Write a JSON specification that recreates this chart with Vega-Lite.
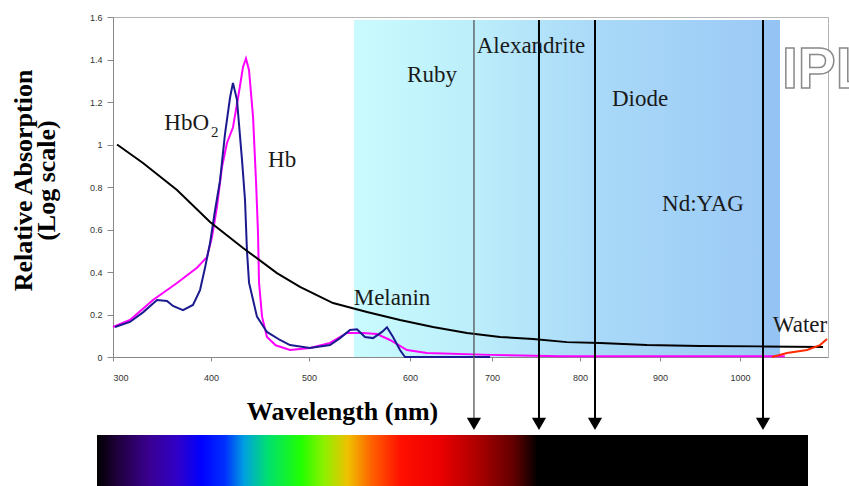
{
  "$schema": "https://vega.github.io/schema/vega-lite/v6.json",
  "width": 715,
  "height": 340,
  "autosize": {"type": "none"},
  "padding": {"left": 113, "top": 17, "right": 21, "bottom": 129},
  "background": "white",
  "config": {"view": {"stroke": "#b4b4b4", "strokeWidth": 1}},
  "datasets": {
    "curves": [
      {"series": "Hb", "nm": 300, "v": 0.141},
      {"series": "Hb", "nm": 317.3, "v": 0.174},
      {"series": "Hb", "nm": 340.8, "v": 0.268},
      {"series": "Hb", "nm": 365.3, "v": 0.348},
      {"series": "Hb", "nm": 385.7, "v": 0.42},
      {"series": "Hb", "nm": 395.9, "v": 0.47},
      {"series": "Hb", "nm": 401, "v": 0.565},
      {"series": "Hb", "nm": 406.1, "v": 0.706},
      {"series": "Hb", "nm": 411.2, "v": 0.894},
      {"series": "Hb", "nm": 416.3, "v": 1.007},
      {"series": "Hb", "nm": 422.4, "v": 1.08},
      {"series": "Hb", "nm": 427.6, "v": 1.22},
      {"series": "Hb", "nm": 432.7, "v": 1.365},
      {"series": "Hb", "nm": 435.7, "v": 1.405},
      {"series": "Hb", "nm": 438.8, "v": 1.35},
      {"series": "Hb", "nm": 442.9, "v": 1.13},
      {"series": "Hb", "nm": 446, "v": 0.82},
      {"series": "Hb", "nm": 448, "v": 0.58},
      {"series": "Hb", "nm": 449, "v": 0.35},
      {"series": "Hb", "nm": 452.1, "v": 0.19},
      {"series": "Hb", "nm": 457.1, "v": 0.094},
      {"series": "Hb", "nm": 466, "v": 0.055},
      {"series": "Hb", "nm": 480.6, "v": 0.033},
      {"series": "Hb", "nm": 501, "v": 0.042},
      {"series": "Hb", "nm": 520.8, "v": 0.066},
      {"series": "Hb", "nm": 537.6, "v": 0.113},
      {"series": "Hb", "nm": 553.5, "v": 0.113},
      {"series": "Hb", "nm": 567.3, "v": 0.108},
      {"series": "Hb", "nm": 580.2, "v": 0.08},
      {"series": "Hb", "nm": 597, "v": 0.033},
      {"series": "Hb", "nm": 620.7, "v": 0.019},
      {"series": "Hb", "nm": 697.6, "v": 0.01},
      {"series": "Hb", "nm": 777.3, "v": 0.004},
      {"series": "Hb", "nm": 950, "v": 0.003},
      {"series": "Hb", "nm": 1056, "v": 0.003},
      {"series": "HbO2", "nm": 302, "v": 0.141},
      {"series": "HbO2", "nm": 317.3, "v": 0.165},
      {"series": "HbO2", "nm": 330.6, "v": 0.21},
      {"series": "HbO2", "nm": 344.9, "v": 0.268},
      {"series": "HbO2", "nm": 355.1, "v": 0.264},
      {"series": "HbO2", "nm": 361.2, "v": 0.24},
      {"series": "HbO2", "nm": 371.4, "v": 0.22},
      {"series": "HbO2", "nm": 381.6, "v": 0.245},
      {"series": "HbO2", "nm": 388.8, "v": 0.315},
      {"series": "HbO2", "nm": 393.9, "v": 0.42},
      {"series": "HbO2", "nm": 399, "v": 0.536},
      {"series": "HbO2", "nm": 404.1, "v": 0.69},
      {"series": "HbO2", "nm": 409.2, "v": 0.83},
      {"series": "HbO2", "nm": 414.3, "v": 1.05},
      {"series": "HbO2", "nm": 419.4, "v": 1.22},
      {"series": "HbO2", "nm": 422.4, "v": 1.29},
      {"series": "HbO2", "nm": 426.5, "v": 1.21},
      {"series": "HbO2", "nm": 431.6, "v": 0.93},
      {"series": "HbO2", "nm": 434.7, "v": 0.74},
      {"series": "HbO2", "nm": 436.7, "v": 0.5},
      {"series": "HbO2", "nm": 438.8, "v": 0.35},
      {"series": "HbO2", "nm": 446.9, "v": 0.19},
      {"series": "HbO2", "nm": 457.1, "v": 0.118},
      {"series": "HbO2", "nm": 470.4, "v": 0.08},
      {"series": "HbO2", "nm": 480.6, "v": 0.056},
      {"series": "HbO2", "nm": 501, "v": 0.042},
      {"series": "HbO2", "nm": 520.8, "v": 0.056},
      {"series": "HbO2", "nm": 530.7, "v": 0.089},
      {"series": "HbO2", "nm": 540.6, "v": 0.127},
      {"series": "HbO2", "nm": 547.5, "v": 0.13},
      {"series": "HbO2", "nm": 555.4, "v": 0.094},
      {"series": "HbO2", "nm": 563.4, "v": 0.089},
      {"series": "HbO2", "nm": 572.3, "v": 0.118},
      {"series": "HbO2", "nm": 577.2, "v": 0.14},
      {"series": "HbO2", "nm": 583.2, "v": 0.094},
      {"series": "HbO2", "nm": 590.1, "v": 0.033},
      {"series": "HbO2", "nm": 595, "v": 0.0},
      {"series": "HbO2", "nm": 697.6, "v": 0.0},
      {"series": "Melanin", "nm": 304.1, "v": 1.0},
      {"series": "Melanin", "nm": 330.6, "v": 0.913},
      {"series": "Melanin", "nm": 365.3, "v": 0.786},
      {"series": "Melanin", "nm": 399, "v": 0.635},
      {"series": "Melanin", "nm": 432.7, "v": 0.513},
      {"series": "Melanin", "nm": 467.3, "v": 0.395},
      {"series": "Melanin", "nm": 490.8, "v": 0.33},
      {"series": "Melanin", "nm": 523.8, "v": 0.254},
      {"series": "Melanin", "nm": 557.4, "v": 0.212},
      {"series": "Melanin", "nm": 590.1, "v": 0.174},
      {"series": "Melanin", "nm": 628, "v": 0.141},
      {"series": "Melanin", "nm": 669.5, "v": 0.113},
      {"series": "Melanin", "nm": 709.1, "v": 0.094},
      {"series": "Melanin", "nm": 746.6, "v": 0.085},
      {"series": "Melanin", "nm": 785.2, "v": 0.07},
      {"series": "Melanin", "nm": 825, "v": 0.066},
      {"series": "Melanin", "nm": 883.8, "v": 0.056},
      {"series": "Melanin", "nm": 950, "v": 0.052},
      {"series": "Melanin", "nm": 1025, "v": 0.05},
      {"series": "Melanin", "nm": 1103.8, "v": 0.047},
      {"series": "Water", "nm": 1040, "v": 0.0},
      {"series": "Water", "nm": 1058.8, "v": 0.019},
      {"series": "Water", "nm": 1083.8, "v": 0.033},
      {"series": "Water", "nm": 1100, "v": 0.056},
      {"series": "Water", "nm": 1108.8, "v": 0.085}
    ],
    "lasers": [
      {"name": "Ruby", "nm": 678},
      {"name": "Alexandrite", "nm": 753.4},
      {"name": "Diode", "nm": 818.75},
      {"name": "Nd:YAG", "nm": 1028.75}
    ]
  },
  "layer": [
    {
      "data": {"values": [{"nm": 544.6, "nm2": 1028.75}]},
      "mark": {
        "type": "rect",
        "color": {
          "gradient": "linear", "x1": 0, "y1": 0, "x2": 1, "y2": 0,
          "stops": [
            {"offset": 0, "color": "#c9fbfe"},
            {"offset": 0.27, "color": "#bdeffb"},
            {"offset": 0.6, "color": "#a9d9f8"},
            {"offset": 1, "color": "#9ccaf6"}
          ]
        }
      },
      "encoding": {
        "x": {
          "field": "nm", "type": "quantitative",
          "scale": {"domain": [300, 400, 500, 600, 700, 800, 900, 1000, 1110], "range": [0, 98, 196, 297, 379, 467, 547, 627, 715], "nice": false, "zero": false},
          "axis": {
            "values": [300, 400, 500, 600, 700, 800, 900, 1000], "format": "d", "grid": false,
            "labelFont": "Liberation Sans", "labelFontSize": 9, "labelColor": "#333333", "labelPadding": 12,
            "tickColor": "#888888", "tickSize": 4, "domainColor": "#888888",
            "title": "Wavelength (nm)", "titleFont": "Liberation Serif", "titleFontSize": 26, "titleFontWeight": "bold", "titleColor": "#000000",
            "titleX": 229, "titleY": 62, "titleBaseline": "alphabetic", "titleAlign": "center"
          }
        },
        "x2": {"field": "nm2"},
        "y": {
          "datum": 1.586, "type": "quantitative",
          "scale": {"domain": [0, 1.6], "nice": false, "zero": true},
          "axis": {
            "values": [0, 0.2, 0.4, 0.6, 0.8, 1, 1.2, 1.4, 1.6], "format": "~g", "grid": false,
            "labelFont": "Liberation Sans", "labelFontSize": 9, "labelColor": "#333333", "labelPadding": 5,
            "tickColor": "#888888", "tickSize": 6, "domainColor": "#888888",
            "title": ["Relative Absorption", "(Log scale)"], "titleFont": "Liberation Serif", "titleFontSize": 26, "titleFontWeight": "bold", "titleColor": "#000000",
            "titleX": -90, "titleY": 163, "titleAngle": 270, "titleBaseline": "middle", "titleLineHeight": 23, "titleAlign": "center"
          }
        },
        "y2": {"datum": 0}
      }
    },
    {
      "data": {"values": [{"nm": 1028.75, "nm2": 1050}]},
      "mark": {"type": "rect", "color": "#95c4f4"},
      "encoding": {
        "x": {"field": "nm", "type": "quantitative"},
        "x2": {"field": "nm2"},
        "y": {"datum": 1.586, "type": "quantitative"},
        "y2": {"datum": 0}
      }
    },
    {
      "data": {"values": [{"nm": 283.7, "nm2": 1085}]},
      "mark": {
        "type": "rect",
        "color": {
          "gradient": "linear", "x1": 0, "y1": 0, "x2": 1, "y2": 0,
          "stops": [
            {"offset": 0, "color": "#000000"},
            {"offset": 0.027, "color": "#1e0038"},
            {"offset": 0.073, "color": "#3a0090"},
            {"offset": 0.113, "color": "#3000c8"},
            {"offset": 0.147, "color": "#0000ff"},
            {"offset": 0.18, "color": "#0030ff"},
            {"offset": 0.207, "color": "#00a0e0"},
            {"offset": 0.24, "color": "#00e070"},
            {"offset": 0.287, "color": "#20ff00"},
            {"offset": 0.32, "color": "#90f000"},
            {"offset": 0.353, "color": "#f0c000"},
            {"offset": 0.387, "color": "#ff6000"},
            {"offset": 0.427, "color": "#ff1000"},
            {"offset": 0.48, "color": "#ee0000"},
            {"offset": 0.533, "color": "#b00000"},
            {"offset": 0.587, "color": "#600000"},
            {"offset": 0.62, "color": "#000000"},
            {"offset": 1, "color": "#000000"}
          ]
        }
      },
      "encoding": {
        "x": {"field": "nm", "type": "quantitative"},
        "x2": {"field": "nm2"},
        "y": {"datum": -0.367, "type": "quantitative"},
        "y2": {"datum": -0.62}
      }
    },
    {
      "data": {"name": "curves"},
      "mark": {"type": "line", "strokeWidth": 2, "interpolate": "linear"},
      "encoding": {
        "x": {"field": "nm", "type": "quantitative"},
        "y": {"field": "v", "type": "quantitative"},
        "color": {
          "field": "series", "type": "nominal",
          "scale": {"domain": ["Hb", "HbO2", "Melanin", "Water"], "range": ["#ff00ff", "#1b1b8f", "#000000", "#ff2a00"]},
          "legend": null
        }
      }
    },
    {
      "data": {"name": "lasers"},
      "mark": {"type": "rule"},
      "encoding": {
        "x": {"field": "nm", "type": "quantitative"},
        "y": {"datum": 1.586, "type": "quantitative"},
        "y2": {"datum": -0.33},
        "color": {"condition": {"test": "datum.name === 'Ruby'", "value": "#555555"}, "value": "#000000"},
        "strokeWidth": {"condition": {"test": "datum.name === 'Ruby'", "value": 1.3}, "value": 2}
      }
    },
    {
      "data": {"name": "lasers"},
      "mark": {"type": "point", "shape": "triangle-down", "filled": true, "size": 200, "color": "#000000", "opacity": 1},
      "encoding": {
        "x": {"field": "nm", "type": "quantitative"},
        "y": {"datum": -0.315, "type": "quantitative"}
      }
    },
    {
      "data": {"values": [
        {"label": "Ruby", "nm": 626.8, "v": 1.294},
        {"label": "Alexandrite", "nm": 744.3, "v": 1.431},
        {"label": "Diode", "nm": 875, "v": 1.181},
        {"label": "Nd:YAG", "nm": 953.75, "v": 0.687},
        {"label": "Water", "nm": 1075, "v": 0.118},
        {"label": "Melanin", "nm": 582.2, "v": 0.245}
      ]},
      "mark": {"type": "text", "font": "Liberation Serif", "fontSize": 23, "align": "center", "baseline": "alphabetic", "color": "#1a1a1a"},
      "encoding": {
        "x": {"field": "nm", "type": "quantitative"},
        "y": {"field": "v", "type": "quantitative"},
        "text": {"field": "label"}
      }
    },
    {
      "data": {"values": [{"label": "HbO", "nm": 398, "v": 1.068}]},
      "mark": {"type": "text", "font": "Liberation Serif", "fontSize": 23, "align": "right", "baseline": "alphabetic", "color": "#1a1a1a"},
      "encoding": {
        "x": {"field": "nm", "type": "quantitative"},
        "y": {"field": "v", "type": "quantitative"},
        "text": {"field": "label"}
      }
    },
    {
      "data": {"values": [{"label": "2", "nm": 400, "v": 1.035}]},
      "mark": {"type": "text", "font": "Liberation Serif", "fontSize": 15, "align": "left", "baseline": "alphabetic", "color": "#1a1a1a"},
      "encoding": {
        "x": {"field": "nm", "type": "quantitative"},
        "y": {"field": "v", "type": "quantitative"},
        "text": {"field": "label"}
      }
    },
    {
      "data": {"values": [{"label": "Hb", "nm": 458.2, "v": 0.894}]},
      "mark": {"type": "text", "font": "Liberation Serif", "fontSize": 23, "align": "left", "baseline": "alphabetic", "color": "#1a1a1a"},
      "encoding": {
        "x": {"field": "nm", "type": "quantitative"},
        "y": {"field": "v", "type": "quantitative"},
        "text": {"field": "label"}
      }
    },
    {
      "data": {"values": [{"label": "IPL", "nm": 1052.5, "v": 1.266}]},
      "mark": {"type": "text", "font": "Liberation Sans", "fontSize": 57, "fontWeight": "bold", "align": "left", "baseline": "alphabetic", "fill": "#ffffff", "stroke": "#8a8a8a", "strokeWidth": 1.5},
      "encoding": {
        "x": {"field": "nm", "type": "quantitative"},
        "y": {"field": "v", "type": "quantitative"},
        "text": {"field": "label"}
      }
    }
  ]
}
